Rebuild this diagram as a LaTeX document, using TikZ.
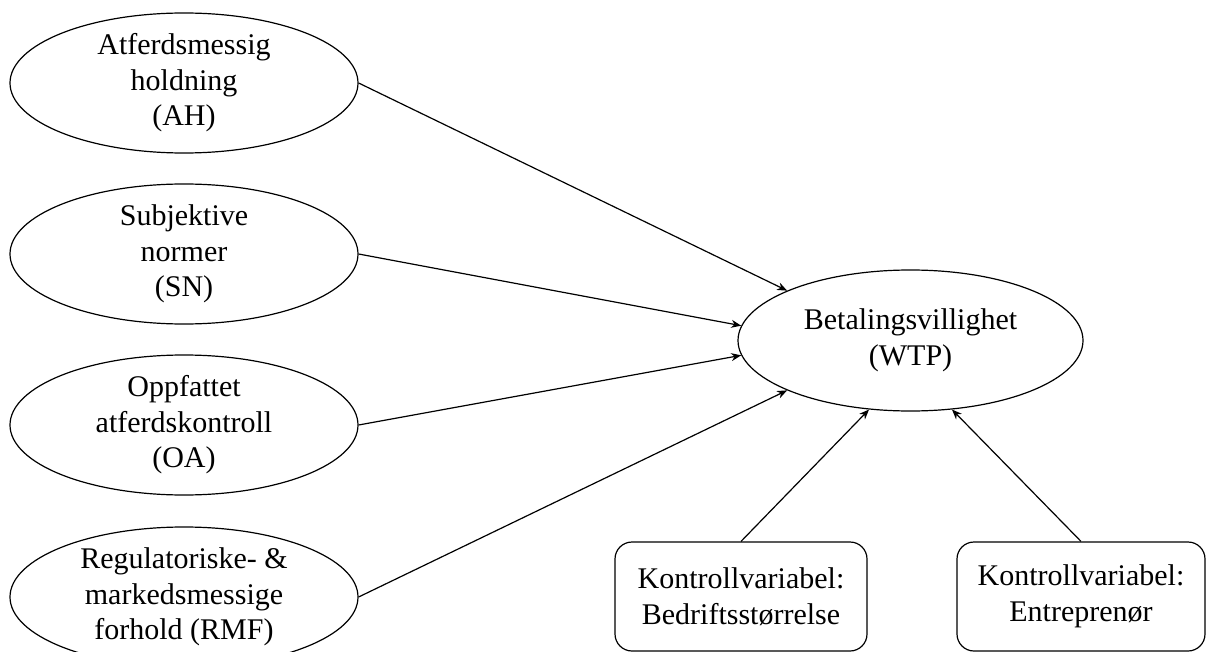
\documentclass[tikz,border=0pt]{standalone}
\usepackage{fontspec}
\setmainfont{Liberation Serif}
\usetikzlibrary{shapes.geometric,arrows.meta}

\begin{document}
\begin{tikzpicture}[>={Stealth[width=8pt,length=10pt]}, line width=1.2pt,
  factor/.style={draw, ellipse, minimum width=348pt, minimum height=140pt, inner sep=0pt, align=center, font=\fontsize{30pt}{35.5pt}\selectfont},
  control/.style={draw, rounded corners=17pt, minimum width=252pt, minimum height=109pt, inner sep=0pt, align=center, font=\fontsize{30pt}{35.5pt}\selectfont}]
  \useasboundingbox (0pt, 0pt) rectangle (1206pt, -652pt);
  \draw (184.0pt, -83.0pt)node[factor](ah){Atferdsmessig\\holdning\\(AH)};
  \draw (184.0pt, -254.0pt)node[factor](sn){Subjektive\\normer\\(SN)};
  \draw (184.0pt, -425.0pt)node[factor](oa){Oppfattet\\atferdskontroll\\(OA)};
  \draw (184.0pt, -597.0pt)node[factor](rmf){Regulatoriske- \&\\markedsmessige\\forhold (RMF)};

  \draw (910.5pt, -340.5pt)node[factor, minimum width=345pt, minimum height=141pt](wtp){Betalingsvillighet\\(WTP)};

  \draw (741.0pt, -596.5pt)node[control](k1){Kontrollvariabel:\\Bedriftsstørrelse};
  \draw (1081.0pt, -596.5pt)node[control, minimum width=248pt](k2){Kontrollvariabel:\\Entreprenør};
  \path[->] (ah.east) edge (wtp.158);
  \path[->] (sn.east) edge (wtp.175);
  \path[->] (oa.east) edge (wtp.185);
  \path[->] (rmf.east) edge (wtp.202);
  \path[->] (k1.north) edge (wtp.239);
  \path[->] (k2.north) edge (wtp.301);
\end{tikzpicture}
\end{document}
